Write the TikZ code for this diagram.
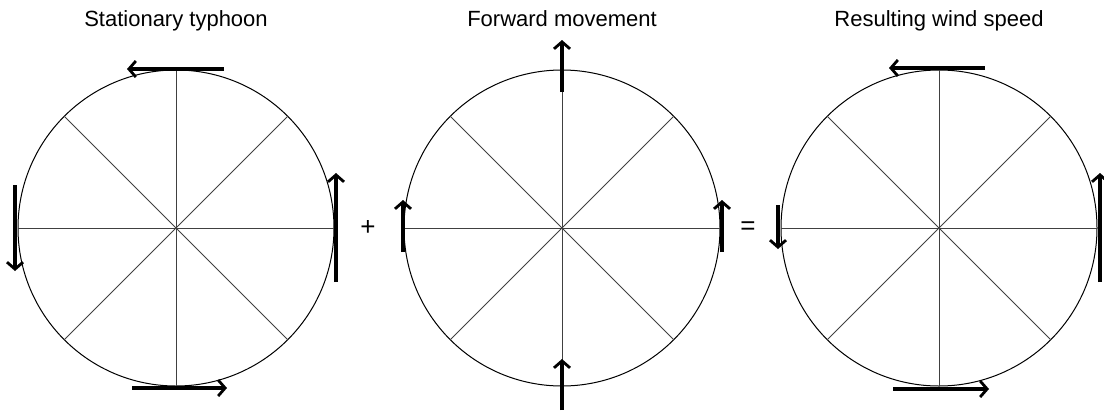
\documentclass[tikz,border=0pt]{standalone}
\usepackage{fontspec}
\setmainfont{Liberation Sans}
\usetikzlibrary{arrows.meta}
\begin{document}
\begin{tikzpicture}[x=1pt,y=-1pt,
  wheel/.style={circle,draw,line width=1pt,minimum size=316pt,inner sep=0pt,outer sep=0pt},
  spoke/.style={line width=0.8pt,draw=black!75},
  wind/.style={line width=3.2pt,-{Straight Barb[length=7pt,width=16pt,line width=2.8pt]}},
  title/.style={font=\fontsize{22}{26}\selectfont,anchor=base},
  sign/.style={font=\fontsize{26}{30}\selectfont}]
\useasboundingbox (0,0) rectangle (1104,416);
\foreach \n/\x in {c1/176,c2/562,c3/939}{
  \node[wheel] (\n) at (\x,228) {};
  \foreach \a in {0,45,...,315}{\draw[spoke] (\n.center) -- (\n.\a);}
}
\node[title] (t1) at (176,26) {Stationary typhoon};
\node[title] (t2) at (562,26) {Forward movement};
\node[title] (t3) at (939,26) {Resulting wind speed};
\node[sign] (plus) at (368,228) {+};
\node[sign] (eq) at (748,228) {=};
% circle 1
\coordinate (a1s) at (224,69); \coordinate (a1e) at (127,69);
\coordinate (b1s) at (15,185); \coordinate (b1e) at (15,271);
\coordinate (r1s) at (336,282); \coordinate (r1e) at (336,173);
\coordinate (d1s) at (132,388); \coordinate (d1e) at (227,388);
% circle 2
\coordinate (a2s) at (562,92); \coordinate (a2e) at (562,40);
\coordinate (d2s) at (562,410); \coordinate (d2e) at (562,359);
\coordinate (b2s) at (403,252); \coordinate (b2e) at (403,200);
\coordinate (r2s) at (722,252); \coordinate (r2e) at (722,200);
% circle 3
\coordinate (a3s) at (985,68); \coordinate (a3e) at (889,68);
\coordinate (d3s) at (893,389); \coordinate (d3e) at (989,389);
\coordinate (b3s) at (778,205); \coordinate (b3e) at (778,249);
\coordinate (r3s) at (1100,282); \coordinate (r3e) at (1100,173);
\foreach \p in {a1,b1,r1,d1,a2,d2,b2,r2,a3,d3,b3,r3}{\draw[wind] (\p s) -- (\p e);}
\end{tikzpicture}
\end{document}
